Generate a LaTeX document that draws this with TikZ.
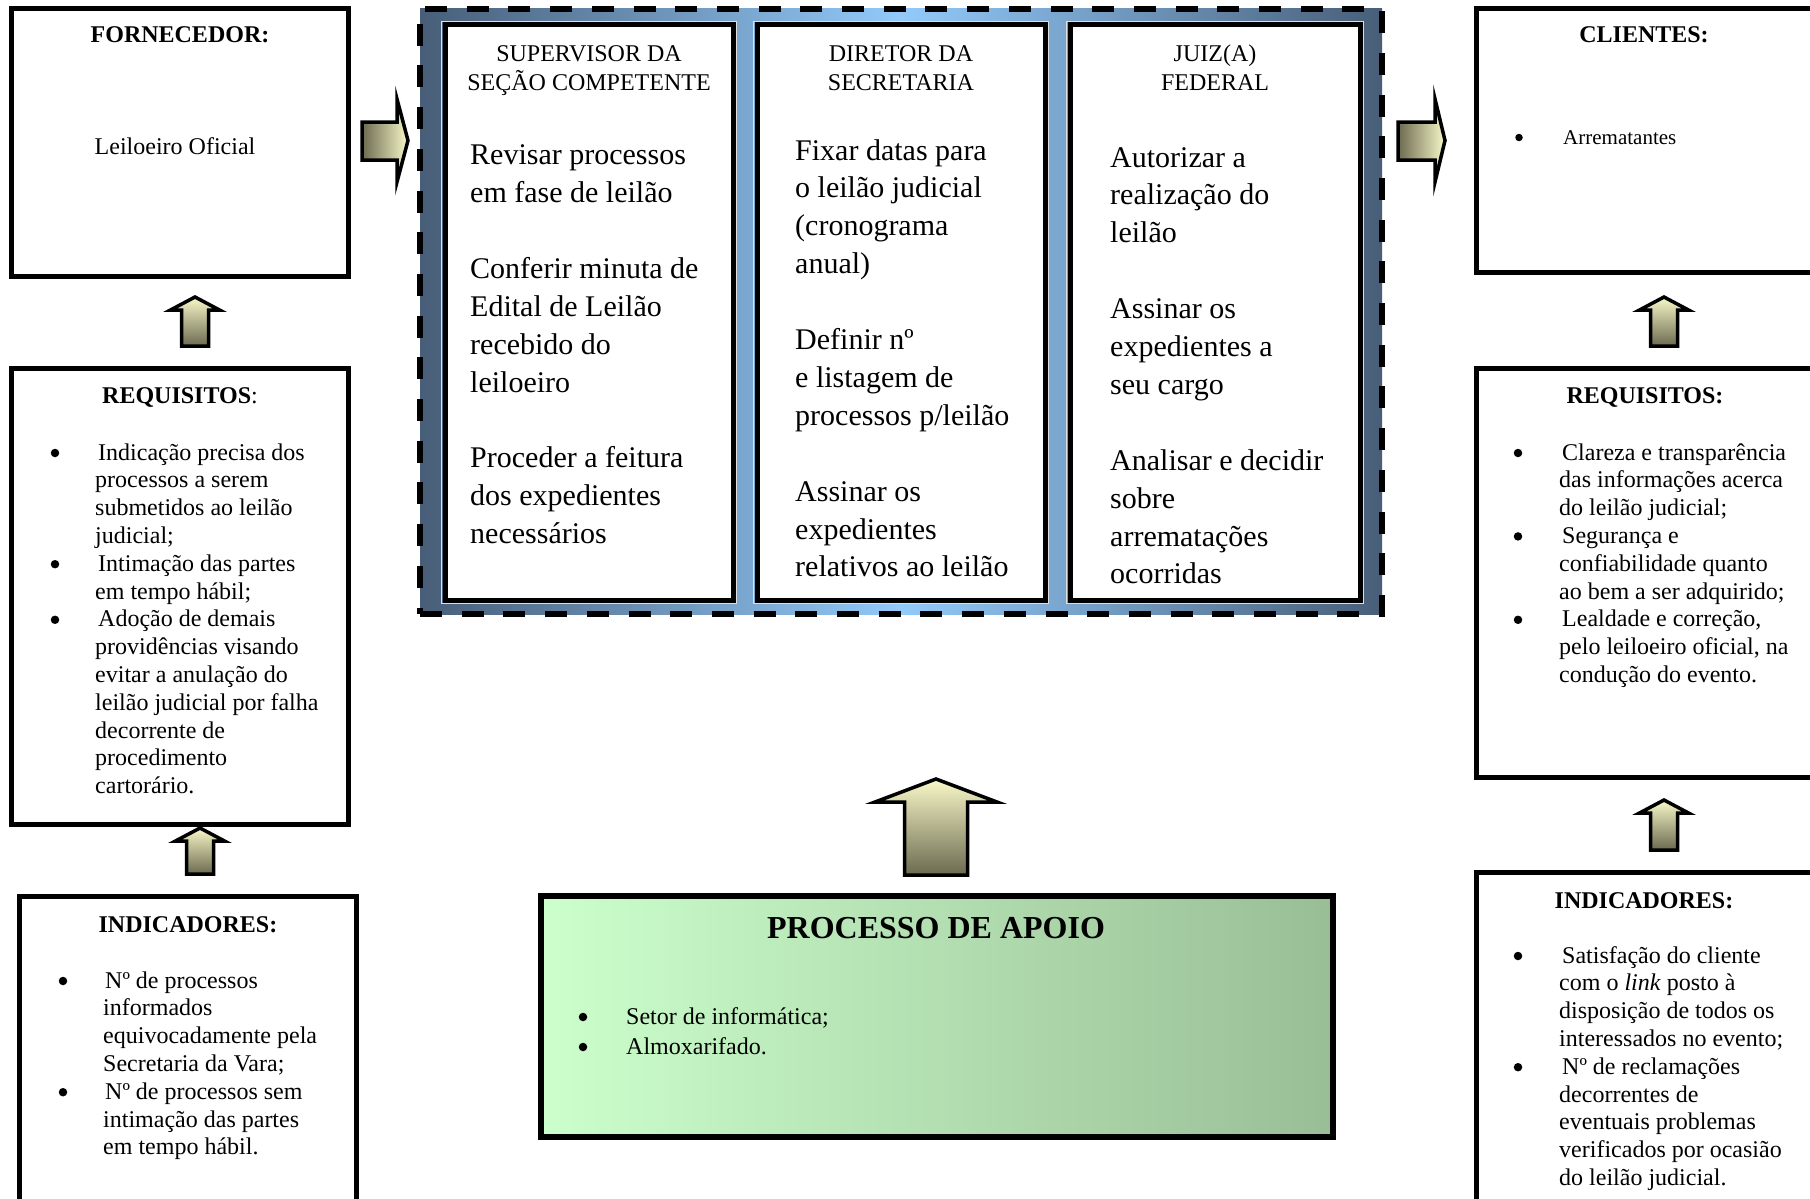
\documentclass[tikz,border=0pt]{standalone}
\usepackage{fontspec}
\setmainfont{Liberation Serif}
\definecolor{frameDark}{RGB}{72,94,120}
\definecolor{frameLight}{RGB}{146,202,250}
\definecolor{arrLight}{RGB}{248,248,200}
\definecolor{arrDark}{RGB}{108,106,80}
\definecolor{apoioL}{RGB}{204,255,204}
\definecolor{apoioR}{RGB}{153,190,150}
\newcommand\mytl[1]{\begin{tabular}[t]{@{}l@{}}#1\end{tabular}}
\newcommand\mytc[1]{\begin{tabular}[t]{@{}c@{}}#1\end{tabular}}
\begin{document}
\begin{tikzpicture}[x=1pt,y=-1pt,
  box/.style={draw=black, line width=5.5pt, fill=white, outer sep=0pt, inner sep=0pt, anchor=north west},
  colbox/.style={draw=black, line width=5pt, fill=white, outer sep=0pt, inner sep=0pt, anchor=north west, minimum height=575pt},
  harr/.style={draw=black, line width=3.5pt, left color=arrDark, right color=arrLight},
  varr/.style={draw=black, line width=3.5pt, top color=arrLight, bottom color=arrDark},
  ttl/.style={inner sep=0pt, anchor=base, font=\fontsize{24}{27.8}\selectfont\bfseries},
  body/.style={inner sep=0pt, anchor=base west, font=\fontsize{24}{27.8}\selectfont},
  bul/.style={circle, fill=black, inner sep=0pt, outer sep=0pt, minimum size=8.5pt},
  colhead/.style={inner sep=0pt, anchor=base, font=\fontsize{24}{29}\selectfont},
  colbody/.style={inner sep=0pt, anchor=base west, font=\fontsize{30}{#1}\selectfont}
]
\useasboundingbox (0,0) rectangle (1810,1199);
\fill[white] (0,0) rectangle (1810,1199);
\clip (0,0) rectangle (1810,1199);

% ---------- left column boxes ----------
\node[box, minimum width=337pt, minimum height=268pt] (forn) at (11.5,8.5) {};
\node[box, minimum width=337pt, minimum height=456pt] (reqL) at (11.5,368.5) {};
\node[box, minimum width=337pt, minimum height=330pt] (indL) at (19.5,896.5) {};
% ---------- right column boxes ----------
\node[box, minimum width=360pt, minimum height=264pt] (cli) at (1476.5,8.5) {};
\node[box, minimum width=360pt, minimum height=409pt] (reqR) at (1476.5,368.5) {};
\node[box, minimum width=360pt, minimum height=350pt] (indR) at (1476.5,872.5) {};
% ---------- support process ----------
\node[draw=black, line width=5.5pt, outer sep=0pt, inner sep=0pt, anchor=north west,
      left color=apoioL, right color=apoioR, minimum width=792pt, minimum height=241pt] (apoio) at (541,896) {};

% ---------- central frame ----------
\node[draw=black, line width=6pt, dash pattern=on 22pt off 19.7pt, outer sep=0pt, inner sep=0pt,
      anchor=north west, left color=frameDark, right color=frameDark, middle color=frameLight,
      minimum width=962pt, minimum height=605pt] (frame) at (420,9) {};
\draw[gray!25, line width=1.2pt] (441.2,21.2) rectangle (736.8,603.8);
\draw[gray!25, line width=1.2pt] (753.2,21.2) rectangle (1048.8,603.8);
\draw[gray!25, line width=1.2pt] (1066.2,21.2) rectangle (1363.8,603.8);
\node[colbox, minimum width=288pt] (col1) at (445,25) {};
\node[colbox, minimum width=288pt] (col2) at (757,25) {};
\node[colbox, minimum width=290pt] (col3) at (1070,25) {};

% ---------- arrows ----------
\path[harr] (362,122) -- (397,122) -- (397,99) -- (408,140.5) -- (397,182) -- (397,160) -- (362,160) -- cycle;
\path[harr] (1398,122) -- (1435,122) -- (1435,99) -- (1445,140.5) -- (1435,182) -- (1435,160) -- (1398,160) -- cycle;
\newcommand\smallup[3]{%
  \path[varr] (#1,#2) -- (#1+24.5,#2+13) -- (#1+13.5,#2+13) -- (#1+13.5,#3) -- (#1-13.5,#3)
     -- (#1-13.5,#2+13) -- (#1-24.5,#2+13) -- cycle;}
\smallup{195}{297}{346}
\smallup{200}{828}{874}
\smallup{1664}{297}{346}
\smallup{1664}{800}{850}
\path[varr] (936,779) -- (997,802) -- (967.5,802) -- (967.5,875) -- (904.5,875) -- (904.5,802) -- (875,802) -- cycle;

% ---------- texts: fornecedor ----------
\node[ttl] (fornT) at (180,43) {FORNECEDOR:};
\node[body, anchor=base] (fornB) at (175,154) {Leiloeiro Oficial};

% ---------- texts: requisitos (left) ----------
\node[ttl] (reqLT) at (180,403) {REQUISITOS\mdseries:};
\node[bul] (reqLb1) at (55,453) {};
\node[bul] (reqLb2) at (55,564.2) {};
\node[bul] (reqLb3) at (55,619.8) {};
\node[body] (reqL1) at (95,460) {\mytl{\hspace{3pt}Indicação precisa dos\\processos a serem\\submetidos ao leilão\\judicial;}};
\node[body] (reqL2) at (95,571.2) {\mytl{\hspace{3pt}Intimação das partes\\em tempo hábil;}};
\node[body] (reqL3) at (95,626.8) {\mytl{\hspace{3pt}Adoção de demais\\providências visando\\evitar a anulação do\\leilão judicial por falha\\decorrente de\\procedimento\\cartorário.}};

% ---------- texts: indicadores (left) ----------
\node[ttl] (indLT) at (188,932) {INDICADORES:};
\node[bul] (indLb1) at (63,981) {};
\node[bul] (indLb2) at (63,1092.2) {};
\node[body] (indL1) at (103,988) {\mytl{\hspace{2pt}Nº de processos\\informados\\equivocadamente pela\\Secretaria da Vara;}};
\node[body] (indL2) at (103,1099.2) {\mytl{\hspace{2pt}Nº de processos sem\\intimação das partes\\em tempo hábil.}};

% ---------- texts: clientes ----------
\node[ttl] (cliT) at (1644,43) {CLIENTES:};
\node[bul, minimum size=7.5pt] (clib) at (1519,137.5) {};
\node[body, font=\fontsize{21}{24}\selectfont] (cli1) at (1563,144) {Arrematantes};

% ---------- texts: requisitos (right) ----------
\node[ttl] (reqRT) at (1645,403) {REQUISITOS:};
\node[bul] (reqRb1) at (1518,453) {};
\node[bul] (reqRb2) at (1518,536.4) {};
\node[bul] (reqRb3) at (1518,619.8) {};
\node[body] (reqR1) at (1559,460) {\mytl{\hspace{3pt}Clareza e transparência\\das informações acerca\\do leilão judicial;}};
\node[body] (reqR2) at (1559,543.4) {\mytl{\hspace{3pt}Segurança e\\confiabilidade quanto\\ao bem a ser adquirido;}};
\node[body] (reqR3) at (1559,626.8) {\mytl{\hspace{3pt}Lealdade e correção,\\pelo leiloeiro oficial, na\\condução do evento.}};

% ---------- texts: indicadores (right) ----------
\node[ttl] (indRT) at (1644,908) {INDICADORES:};
\node[bul] (indRb1) at (1518,956) {};
\node[bul] (indRb2) at (1518,1067.2) {};
\node[body] (indR1) at (1559,963) {\mytl{\hspace{3pt}Satisfação do cliente\\com o \textit{link} posto à\\disposição de todos os\\interessados no evento;}};
\node[body] (indR2) at (1559,1074.2) {\mytl{\hspace{3pt}Nº de reclamações\\decorrentes de\\eventuais problemas\\verificados por ocasião\\do leilão judicial.}};

% ---------- texts: processo de apoio ----------
\node[ttl, font=\fontsize{32}{36}\selectfont\bfseries] (apoioT) at (936,938) {PROCESSO DE APOIO};
\node[bul] (apb1) at (583,1017) {};
\node[bul] (apb2) at (583,1047) {};
\node[body] (ap1) at (626,1024) {Setor de informática;};
\node[body] (ap2) at (626,1054) {Almoxarifado.};

% ---------- texts: central columns ----------
\node[colhead] (h1) at (589,62) {\mytc{SUPERVISOR DA\\SEÇÃO COMPETENTE}};
\node[colhead] (h2) at (901,62) {\mytc{DIRETOR DA\\SECRETARIA}};
\node[colhead] (h3) at (1215,62) {\mytc{JUIZ(A)\\FEDERAL}};
\node[colbody=38] (b1) at (470,164) {\mytl{Revisar processos\\em fase de leilão\\ \\Conferir minuta de\\Edital de Leilão\\recebido do\\leiloeiro\\ \\Proceder a feitura\\dos expedientes\\necessários}};
\node[colbody=37.9] (b2) at (795,160) {\mytl{Fixar datas para\\o leilão judicial\\(cronograma\\anual)\\ \\Definir nº\\e listagem de\\processos p/leilão\\ \\Assinar os\\expedientes\\relativos ao leilão}};
\node[colbody=37.9] (b3) at (1110,167) {\mytl{Autorizar a\\realização do\\leilão\\ \\Assinar os\\expedientes a\\seu cargo\\ \\Analisar e decidir\\sobre\\arrematações\\ocorridas}};
\end{tikzpicture}
\end{document}
